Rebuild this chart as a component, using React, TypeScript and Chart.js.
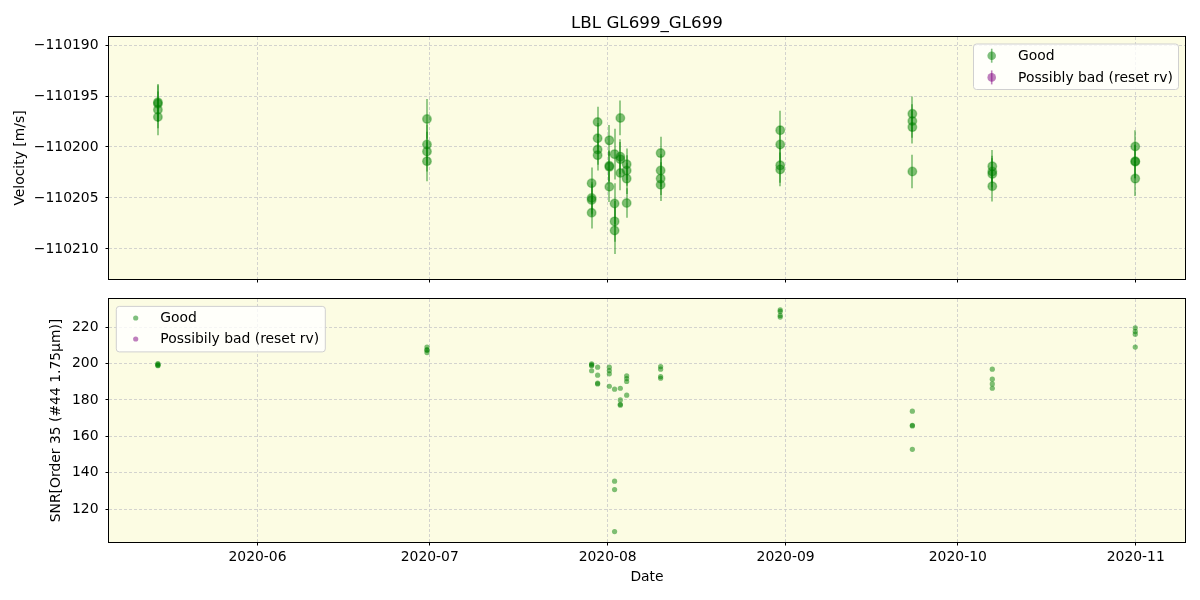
import React, { useEffect, useRef } from "react";
import { Chart, registerables } from "chart.js";

Chart.register(...registerables);

// ---------------- data ----------------
const TITLE = "LBL GL699_GL699";

const OBS_DATES = [
  "2020-05-14T15:30Z", "2020-05-14T15:30Z", "2020-05-14T15:30Z", "2020-05-14T15:30Z",
  "2020-06-30T12:30Z", "2020-06-30T12:30Z", "2020-06-30T12:30Z", "2020-06-30T12:30Z",
  "2020-07-29T05:00Z", "2020-07-29T05:00Z", "2020-07-29T05:00Z", "2020-07-29T05:00Z",
  "2020-07-30T06:00Z", "2020-07-30T06:00Z", "2020-07-30T06:00Z", "2020-07-30T06:00Z",
  "2020-08-01T07:00Z", "2020-08-01T07:00Z", "2020-08-01T07:00Z", "2020-08-01T07:00Z",
  "2020-08-02T05:00Z", "2020-08-02T05:00Z", "2020-08-02T05:00Z", "2020-08-02T05:00Z",
  "2020-08-03T05:00Z", "2020-08-03T05:00Z", "2020-08-03T05:00Z", "2020-08-03T05:00Z",
  "2020-08-04T07:30Z", "2020-08-04T07:30Z", "2020-08-04T07:30Z", "2020-08-04T07:30Z",
  "2020-08-10T05:30Z", "2020-08-10T05:30Z", "2020-08-10T05:30Z", "2020-08-10T05:30Z",
  "2020-08-31T01:30Z", "2020-08-31T01:30Z", "2020-08-31T01:30Z", "2020-08-31T01:30Z",
  "2020-09-23T02:00Z", "2020-09-23T02:00Z", "2020-09-23T02:00Z", "2020-09-23T02:00Z",
  "2020-10-07T00:15Z", "2020-10-07T00:15Z", "2020-10-07T00:15Z", "2020-10-07T00:15Z",
  "2020-10-31T22:00Z", "2020-10-31T22:00Z", "2020-10-31T22:00Z", "2020-10-31T22:00Z",
];

const RV_VALUES = [
  -110195.62, -110195.75, -110196.35, -110197.05,
  -110197.25, -110199.75, -110200.45, -110201.4,
  -110203.55, -110205.0, -110205.2, -110206.45,
  -110197.55, -110199.15, -110200.25, -110200.8,
  -110199.35, -110201.85, -110201.95, -110203.9,
  -110200.7, -110205.55, -110207.3, -110208.2,
  -110197.15, -110200.95, -110201.2, -110202.55,
  -110201.7, -110202.3, -110203.1, -110205.5,
  -110200.6, -110202.3, -110203.1, -110203.7,
  -110198.35, -110199.75, -110201.8, -110202.2,
  -110196.75, -110197.45, -110198.05, -110202.4,
  -110201.9, -110202.4, -110202.65, -110203.85,
  -110199.95, -110201.4, -110201.45, -110203.1,
];

const RV_ERRORS = [
  1.8, 1.8, 1.8, 1.8,
  1.95, 1.95, 1.95, 1.95,
  1.55, 1.55, 1.55, 1.55,
  1.5, 1.5, 1.5, 1.5,
  1.5, 1.5, 1.5, 1.5,
  2.5, 2.0, 2.0, 2.3,
  1.7, 1.7, 1.7, 1.7,
  1.55, 1.5, 1.5, 1.45,
  1.6, 1.6, 1.6, 1.6,
  1.9, 1.8, 1.7, 1.65,
  1.7, 1.65, 1.6, 1.65,
  1.6, 1.55, 1.55, 1.5,
  1.6, 1.65, 1.65, 1.7,
];

const SNR_VALUES = [
  199.9, 199.5, 199.0, 198.8,
  209.0, 207.6, 207.2, 206.0,
  199.8, 199.2, 198.8, 196.0,
  198.0, 193.6, 189.2, 188.8,
  198.0, 196.1, 194.3, 187.5,
  185.9, 135.4, 130.8, 107.7,
  186.4, 180.0, 177.6, 177.1,
  193.2, 191.7, 190.1, 182.6,
  198.3, 196.9, 192.8, 191.9,
  229.4, 228.6, 226.4, 225.5,
  173.8, 166.1, 165.7, 152.9,
  196.9, 191.4, 188.8, 186.4,
  219.6, 217.6, 216.1, 209.0,
];

// "Possibly bad (reset rv)" series: empty in this data set
const BAD_DATES: string[] = [];
const BAD_RV: number[] = [];
const BAD_RV_ERRORS: number[] = [];
const BAD_SNR: number[] = [];

const X_TICK_DATES = ["2020-06-01T00:00Z", "2020-07-01T00:00Z", "2020-08-01T00:00Z", "2020-09-01T00:00Z", "2020-10-01T00:00Z", "2020-11-01T00:00Z"];
const X_TICK_LABELS = ["2020-06", "2020-07", "2020-08", "2020-09", "2020-10", "2020-11"];
const X_RANGE = ["2020-05-06T03:00Z", "2020-11-09T14:00Z"];

const RV_TICKS = [-110210, -110205, -110200, -110195, -110190];
const RV_RANGE = [-110212.95, -110189.21];

const SNR_TICKS = [120, 140, 160, 180, 200, 220];
const SNR_RANGE = [102.0, 235.4];

const LEGEND_TOP = ["Good", "Possibly bad (reset rv)"];
const LEGEND_BOTTOM = ["Good", "Possibily bad (reset rv)"];

// ---------------- style ----------------
const FONT = "'DejaVu Sans', sans-serif";
const FS = 13.9;
const BG = "#fcfce3";
const GRID = "rgba(200,200,200,0.8)";
const GREEN_FILL = "rgba(0,128,0,0.5)";
const GREEN_EDGE = "rgba(0,128,0,0.35)";
const PURPLE_FILL = "rgba(128,0,128,0.5)";

const toT = (s: string) => Date.parse(s);

const fmtMinus = (v: number) => (v < 0 ? "\u2212" + Math.abs(v) : String(v));

function xScaleOpts(showLabels: boolean, height: number, title?: string) {
  const ticks = X_TICK_DATES.map(toT);
  return {
    type: "linear",
    min: toT(X_RANGE[0]),
    max: toT(X_RANGE[1]),
    afterBuildTicks: (ax: any) => {
      ax.ticks = ticks.map((v) => ({ value: v }));
    },
    afterFit: (ax: any) => {
      ax.height = height;
      ax.paddingLeft = 0;
      ax.paddingRight = 0;
      ax.paddingTop = 0;
      ax.paddingBottom = 0;
    },
    ticks: {
      autoSkip: false,
      maxRotation: 0,
      padding: 4,
      color: "#000",
      font: { family: FONT, size: FS },
      callback: (v: number) => {
        if (!showLabels) return "";
        const i = ticks.indexOf(v);
        return i >= 0 ? X_TICK_LABELS[i] : "";
      },
    },
    grid: {
      color: GRID,
      lineWidth: 1,
      drawTicks: true,
      tickLength: 3.5,
      tickColor: "#000",
      tickWidth: 1,
    },
    border: { display: false, dash: [3, 2] },
    title: title
      ? { display: true, text: title, color: "#000", font: { family: FONT, size: FS }, padding: { top: 0, bottom: 14.7 } }
      : { display: false },
  };
}

function yScaleOpts(range: number[], tickVals: number[], title: string, titlePad: number) {
  return {
    type: "linear",
    min: range[0],
    max: range[1],
    afterBuildTicks: (ax: any) => {
      ax.ticks = tickVals.map((v) => ({ value: v }));
    },
    afterFit: (ax: any) => {
      ax.width = 109;
      ax.paddingTop = 0;
      ax.paddingBottom = 0;
      ax.paddingLeft = 0;
      ax.paddingRight = 0;
    },
    ticks: {
      padding: 7,
      color: "#000",
      font: { family: FONT, size: FS },
      callback: (v: number) => fmtMinus(v),
    },
    grid: {
      color: GRID,
      lineWidth: 1,
      drawTicks: true,
      tickLength: 3.5,
      tickColor: "#000",
      tickWidth: 1,
    },
    border: { display: false, dash: [3, 2] },
    title: { display: true, text: title, color: "#000", font: { family: FONT, size: FS }, padding: { top: titlePad, bottom: 0 } },
  };
}

const frameAndBg = {
  id: "frameAndBg",
  beforeDraw(chart: any) {
    const { ctx, chartArea: a } = chart;
    ctx.save();
    ctx.fillStyle = BG;
    ctx.fillRect(a.left, a.top, a.right - a.left, a.bottom - a.top);
    ctx.restore();
  },
  afterDraw(chart: any) {
    const { ctx, chartArea: a } = chart;
    ctx.save();
    ctx.strokeStyle = "#000";
    ctx.lineWidth = 1;
    ctx.strokeRect(Math.round(a.left) - 0.5, Math.round(a.top) - 0.5, Math.round(a.right - a.left) + 1, Math.round(a.bottom - a.top) + 1);
    ctx.restore();
  },
};

function drawLegendBox(ctx: CanvasRenderingContext2D, x: number, y: number, w: number, h: number) {
  const r = 3;
  ctx.beginPath();
  ctx.moveTo(x + r, y);
  ctx.lineTo(x + w - r, y);
  ctx.arcTo(x + w, y, x + w, y + r, r);
  ctx.lineTo(x + w, y + h - r);
  ctx.arcTo(x + w, y + h, x + w - r, y + h, r);
  ctx.lineTo(x + r, y + h);
  ctx.arcTo(x, y + h, x, y + h - r, r);
  ctx.lineTo(x, y + r);
  ctx.arcTo(x, y, x + r, y, r);
  ctx.closePath();
  ctx.fillStyle = "rgba(255,255,255,0.8)";
  ctx.fill();
  ctx.strokeStyle = "#d0d0d0";
  ctx.lineWidth = 1;
  ctx.stroke();
}

const topExtras = {
  id: "topExtras",
  beforeDatasetsDraw(chart: any) {
    const { ctx, chartArea: a, scales } = chart;
    const xs = scales.x;
    const ys = scales.y;
    ctx.save();
    ctx.beginPath();
    ctx.rect(a.left, a.top, a.right - a.left, a.bottom - a.top);
    ctx.clip();
    ctx.lineWidth = 1.6;
    const drawBars = (dates: string[], vals: number[], errs: number[], color: string) => {
      ctx.strokeStyle = color;
      for (let i = 0; i < vals.length; i++) {
        const px = Math.round(xs.getPixelForValue(toT(dates[i])));
        const y1 = ys.getPixelForValue(vals[i] + errs[i]);
        const y2 = ys.getPixelForValue(vals[i] - errs[i]);
        ctx.beginPath();
        ctx.moveTo(px, y1);
        ctx.lineTo(px, y2);
        ctx.stroke();
      }
    };
    drawBars(OBS_DATES, RV_VALUES, RV_ERRORS, GREEN_FILL);
    drawBars(BAD_DATES, BAD_RV, BAD_RV_ERRORS, PURPLE_FILL);
    ctx.restore();
  },
  afterDraw(chart: any) {
    const { ctx, chartArea: a } = chart;
    // figure title
    ctx.save();
    ctx.fillStyle = "#000";
    ctx.font = `16.7px ${FONT}`;
    ctx.textAlign = "center";
    ctx.textBaseline = "middle";
    ctx.fillText(TITLE, (a.left + a.right) / 2, 23.5);
    // legend (upper right)
    const w = 205;
    const h = 45.5;
    const lx = a.right - 6.5 - w;
    const ly = a.top + 7;
    drawLegendBox(ctx, lx, ly, w, h);
    const colors = [GREEN_FILL, PURPLE_FILL];
    const rowY = [ly + 11.7, ly + 33.4];
    ctx.font = `${FS}px ${FONT}`;
    ctx.textAlign = "left";
    for (let i = 0; i < 2; i++) {
      const mx = lx + 18.2;
      const my = rowY[i];
      ctx.strokeStyle = colors[i];
      ctx.lineWidth = 1.6;
      ctx.beginPath();
      ctx.moveTo(mx, my - 7);
      ctx.lineTo(mx, my + 7);
      ctx.stroke();
      ctx.beginPath();
      ctx.arc(mx, my, 4.3, 0, Math.PI * 2);
      ctx.fillStyle = colors[i];
      ctx.fill();
      ctx.fillStyle = "#000";
      ctx.fillText(LEGEND_TOP[i], lx + 44.5, my + 0.5);
    }
    ctx.restore();
  },
};

const bottomExtras = {
  id: "bottomExtras",
  afterDraw(chart: any) {
    const { ctx, chartArea: a } = chart;
    ctx.save();
    const w = 209;
    const h = 45.5;
    const lx = a.left + 7.3;
    const ly = a.top + 7.4;
    drawLegendBox(ctx, lx, ly, w, h);
    const colors = [GREEN_FILL, PURPLE_FILL];
    const rowY = [ly + 11.6, ly + 32.6];
    ctx.font = `${FS}px ${FONT}`;
    ctx.textAlign = "left";
    ctx.textBaseline = "middle";
    for (let i = 0; i < 2; i++) {
      const mx = lx + 19.4;
      const my = rowY[i];
      ctx.beginPath();
      ctx.arc(mx, my, 2.6, 0, Math.PI * 2);
      ctx.fillStyle = colors[i];
      ctx.fill();
      ctx.fillStyle = "#000";
      ctx.fillText(LEGEND_BOTTOM[i], lx + 44, my + 0.5);
    }
    ctx.restore();
  },
};

export default function App() {
  const topRef = useRef<HTMLCanvasElement | null>(null);
  const botRef = useRef<HTMLCanvasElement | null>(null);

  useEffect(() => {
    document.body.style.margin = "0";
    const good = OBS_DATES.map((d, i) => ({ x: toT(d), y: RV_VALUES[i] }));
    const bad = BAD_DATES.map((d, i) => ({ x: toT(d), y: BAD_RV[i] }));
    const goodSnr = OBS_DATES.map((d, i) => ({ x: toT(d), y: SNR_VALUES[i] }));
    const badSnr = BAD_DATES.map((d, i) => ({ x: toT(d), y: BAD_SNR[i] }));

    const top = new Chart(topRef.current as HTMLCanvasElement, {
      type: "scatter",
      data: {
        datasets: [
          {
            label: "Good",
            data: good,
            pointRadius: 4.3,
            pointBackgroundColor: GREEN_FILL,
            pointBorderColor: GREEN_EDGE,
            pointBorderWidth: 1.4,
            showLine: false,
          },
          {
            label: "Possibly bad (reset rv)",
            data: bad,
            pointRadius: 4.3,
            pointBackgroundColor: PURPLE_FILL,
            pointBorderColor: PURPLE_FILL,
            pointBorderWidth: 1,
            showLine: false,
          },
        ],
      },
      options: {
        responsive: false,
        animation: false,
        devicePixelRatio: 1,
        events: [],
        layout: { padding: { top: 37, left: 0, right: 15, bottom: 0 } },
        plugins: { legend: { display: false }, tooltip: { enabled: false }, title: { display: false } },
        scales: {
          x: xScaleOpts(false, 11) as any,
          y: yScaleOpts(RV_RANGE, RV_TICKS, "Velocity [m/s]", 11.7) as any,
        },
      },
      plugins: [frameAndBg, topExtras],
    });

    const bot = new Chart(botRef.current as HTMLCanvasElement, {
      type: "scatter",
      data: {
        datasets: [
          {
            label: "Good",
            data: goodSnr,
            pointRadius: 2.6,
            pointBackgroundColor: GREEN_FILL,
            pointBorderWidth: 0,
            showLine: false,
          },
          {
            label: "Possibily bad (reset rv)",
            data: badSnr,
            pointRadius: 2.6,
            pointBackgroundColor: PURPLE_FILL,
            pointBorderWidth: 0,
            showLine: false,
          },
        ],
      },
      options: {
        responsive: false,
        animation: false,
        devicePixelRatio: 1,
        events: [],
        layout: { padding: { top: 9, left: 0, right: 15, bottom: 0 } },
        plugins: { legend: { display: false }, tooltip: { enabled: false }, title: { display: false } },
        scales: {
          x: xScaleOpts(true, 58, "Date") as any,
          y: yScaleOpts(SNR_RANGE, SNR_TICKS, "SNR[Order 35 (#44 1.75\u03bcm)]", 48.3) as any,
        },
      },
      plugins: [frameAndBg, bottomExtras],
    });

    return () => {
      top.destroy();
      bot.destroy();
    };
  }, []);

  return (
    <div style={{ position: "fixed", left: 0, top: 0, width: 1200, height: 600, background: "#fff" }}>
      <canvas ref={topRef} width={1200} height={290} style={{ position: "absolute", left: 0, top: 0, width: 1200, height: 290 }} />
      <canvas ref={botRef} width={1200} height={310} style={{ position: "absolute", left: 0, top: 290, width: 1200, height: 310 }} />
    </div>
  );
}
